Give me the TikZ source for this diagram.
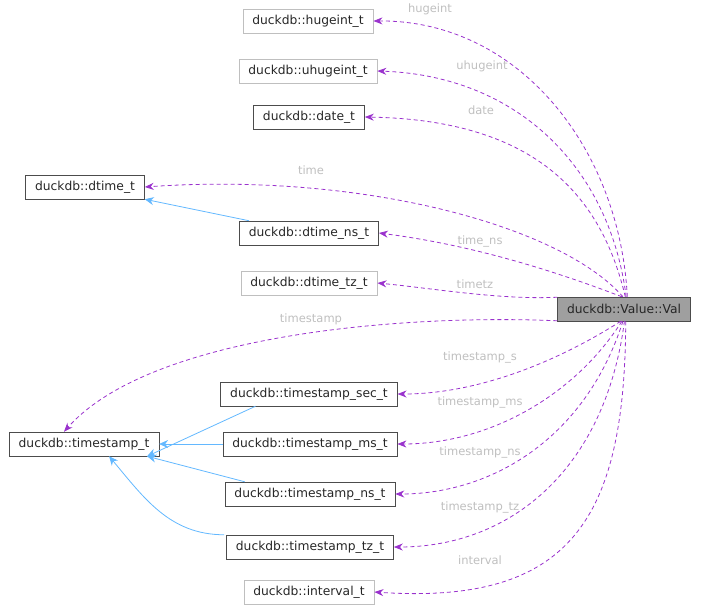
\documentclass[tikz,border=0pt]{standalone}
\usepackage{fontspec}
\setmainfont{DejaVu Sans}
\usetikzlibrary{arrows.meta}
\definecolor{dep}{HTML}{9A32CD}
\definecolor{inh}{HTML}{63B8FF}
\definecolor{lbl}{HTML}{9F9F9F}
\definecolor{gb}{HTML}{BFBFBF}
\begin{document}
\begin{tikzpicture}[x=1pt,y=-1pt,
 box/.style={draw=black!70,line width=0.5pt,minimum height=24pt,inner xsep=9.5pt,text=black!85,font=\fontsize{12.3}{13}\selectfont},
 gbox/.style={box,draw=gb},
 dep/.style={draw=dep,dash pattern=on 4pt off 3pt,line width=0.8pt,-{Stealth[length=9pt,width=7pt]}},
 inh/.style={draw=inh,line width=0.8pt,-{Stealth[length=9pt,width=8pt]}},
 lab/.style={text=gb,font=\fontsize{11.5}{12}\selectfont,inner sep=0pt}]
\useasboundingbox (0,0) rectangle (701,611);
\node[gbox] (hu) at (308,21) {duckdb::hugeint\_t};
\node[gbox] (uhu) at (308,71) {duckdb::uhugeint\_t};
\node[box] (date) at (309,117) {duckdb::date\_t};
\node[box] (dt) at (85,187) {duckdb::dtime\_t};
\node[box] (dtns) at (309,233) {duckdb::dtime\_ns\_t};
\node[gbox] (dttz) at (309,283) {duckdb::dtime\_tz\_t};
\node[box,fill=lbl] (v) at (624,309) {duckdb::Value::Val};
\node[box] (tss) at (309,394) {duckdb::timestamp\_sec\_t};
\node[box] (ts) at (84,444) {duckdb::timestamp\_t};
\node[box] (tsms) at (310,444) {duckdb::timestamp\_ms\_t};
\node[box] (tsns) at (310,494) {duckdb::timestamp\_ns\_t};
\node[box] (tstz) at (310,547) {duckdb::timestamp\_tz\_t};
\node[gbox] (iv) at (309,592) {duckdb::interval\_t};
% labels
\node[lab] (l1) at (430,9) {hugeint};
\node[lab] (l2) at (482,66) {uhugeint};
\node[lab] (l3) at (481,110) {date};
\node[lab] (l4) at (311,170) {time};
\node[lab] (l5) at (480,241) {time\_ns};
\node[lab] (l6) at (475,284) {timetz};
\node[lab] (l7) at (311,319) {timestamp};
\node[lab] (l8) at (480,357) {timestamp\_s};
\node[lab] (l9) at (480,402) {timestamp\_ms};
\node[lab] (l10) at (480,452) {timestamp\_ns};
\node[lab] (l11) at (480,507) {timestamp\_tz};
\node[lab] (l12) at (480,560) {interval};
% inheritance
\draw[inh] (dtns.north west) ++(10,0) coordinate (a1) -- (dt.south east);
\draw[inh] (tss.south west) ++(35,0) coordinate (a2) -- ([xshift=-12pt]ts.south east);
\draw[inh] (tsms.west) -- (ts.east);
\draw[inh] (tsns.north west) ++(20,0) coordinate (a3) -- ([xshift=-12pt]ts.south east);
\draw[inh] (tstz.north west) ++(-2,0) coordinate (a4) to[out=180,in=-50] ([xshift=-50pt]ts.south east);
% dependencies
\draw[dep] (v.75) .. controls (620,150) and (520,20) .. (hu.east);
\draw[dep] (v.80) .. controls (610,170) and (520,76) .. (uhu.east);
\draw[dep] (v.84) .. controls (600,190) and (530,120) .. (date.east);
\draw[dep] (v.95) .. controls (560,225) and (360,172) .. (dt.east);
\draw[dep] (v.100) .. controls (565,275) and (480,246) .. (dtns.east);
\draw[dep] (v.170) .. controls (500,300) and (430,288) .. (dttz.east);
\draw[dep] (v.190) .. controls (400,314) and (150,335) .. ([xshift=-20pt]ts.north);
\draw[dep] (v.-105) .. controls (560,360) and (480,394) .. (tss.east);
\draw[dep] (v.-100) .. controls (575,395) and (490,444) .. (tsms.east);
\draw[dep] (v.-95) .. controls (585,440) and (490,494) .. (tsns.east);
\draw[dep] (v.-88) .. controls (605,470) and (510,547) .. (tstz.east);
\draw[dep] (v.-82) .. controls (625,520) and (570,605) .. (iv.east);
\end{tikzpicture}
\end{document}
